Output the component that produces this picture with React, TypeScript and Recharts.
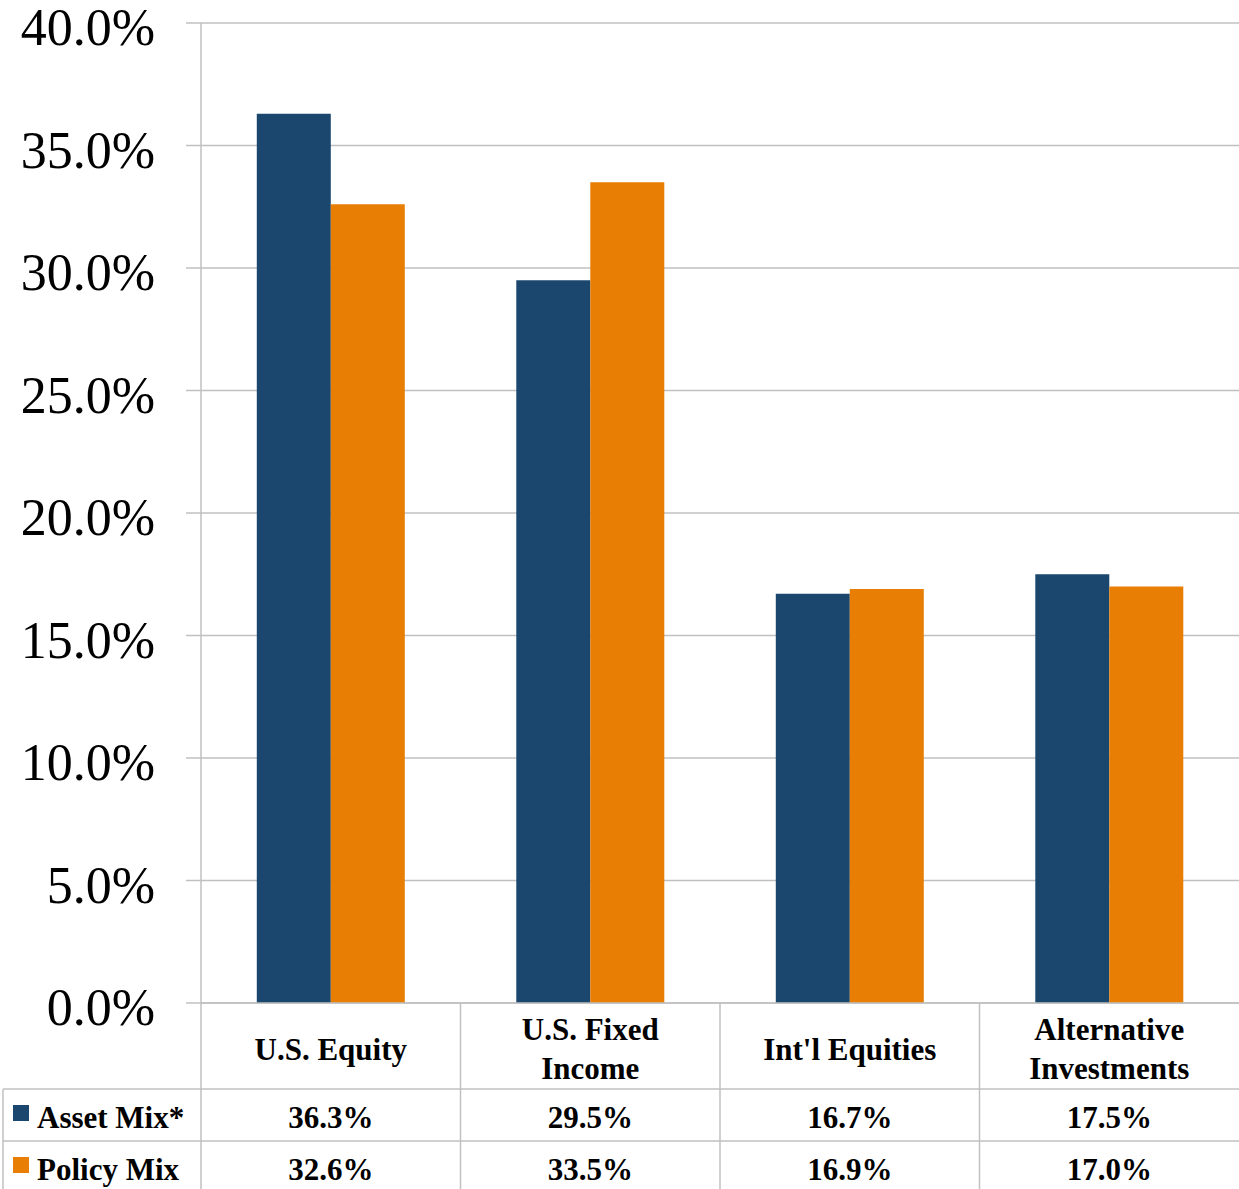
import React from 'react';
import { BarChart, Bar, XAxis, YAxis, CartesianGrid } from 'recharts';

const categories = ['U.S. Equity', 'U.S. Fixed\nIncome', "Int'l Equities", 'Alternative\nInvestments'];
const assetMix = [36.3, 29.5, 16.7, 17.5];
const policyMix = [32.6, 33.5, 16.9, 17.0];
const seriesNames = ['Asset Mix*', 'Policy Mix'];
const yTicks = [0, 5, 10, 15, 20, 25, 30, 35, 40];

const data = categories.map((c, i) => ({ name: c, asset: assetMix[i], policy: policyMix[i] }));

const W = 1239;
const H = 1189;
const LEFT = 201;
const TOP = 23;
const BOTTOM_H = 186;
const PLOT_BOTTOM = H - BOTTOM_H;
const PLOT_W = W - LEFT;
const BW = PLOT_W / categories.length;
const ROW1 = 1089;
const ROW2 = 1141;
const GRID = '#c0c0c0';
const FONT = '"Liberation Serif", "Times New Roman", Times, serif';
const BLUE = '#1b476e';
const ORANGE = '#e87e04';

const YTick = (props: any) => {
  const { y, payload } = props;
  return (
    <text x={LEFT - 46} y={y + 22} textAnchor="end" fontFamily={FONT} fontSize={52} fill="#000">
      {Number(payload.value).toFixed(1)}%
    </text>
  );
};

const XTick = (props: any) => {
  const { x, payload } = props;
  const i = categories.indexOf(String(payload.value));
  const lines = String(payload.value).split('\n');
  const labelYs = lines.length === 1 ? [1060] : [1040, 1079];
  const txt = { fontFamily: FONT, fontSize: 31, fontWeight: 700, fill: '#000', textAnchor: 'middle' as const };
  return (
    <g>
      {i === 0 && (
        <g>
          <line x1={3} y1={ROW1} x2={W} y2={ROW1} stroke={GRID} strokeWidth={1.5} />
          <line x1={3} y1={ROW2} x2={W} y2={ROW2} stroke={GRID} strokeWidth={1.5} />
          <line x1={3} y1={ROW1} x2={3} y2={H} stroke={GRID} strokeWidth={1.5} />
          <rect x={13} y={1105} width={16} height={16} fill={BLUE} />
          <rect x={13} y={1157} width={16} height={16} fill={ORANGE} />
          <text x={37} y={1128} fontFamily={FONT} fontSize={31} fontWeight={700} fill="#000">{seriesNames[0]}</text>
          <text x={37} y={1180} fontFamily={FONT} fontSize={31} fontWeight={700} fill="#000">{seriesNames[1]}</text>
        </g>
      )}
      <line x1={x - BW / 2} y1={PLOT_BOTTOM} x2={x - BW / 2} y2={H} stroke={GRID} strokeWidth={1.5} />
      {lines.map((l, k) => (
        <text key={k} x={x} y={labelYs[k]} {...txt}>{l}</text>
      ))}
      <text x={x} y={1128} {...txt}>{assetMix[i].toFixed(1)}%</text>
      <text x={x} y={1180} {...txt}>{policyMix[i].toFixed(1)}%</text>
    </g>
  );
};

export default function App() {
  return (
    <div style={{ position: 'absolute', left: 0, top: 0, width: W, height: H, background: '#fff' }}>
      <BarChart
        width={W}
        height={H}
        data={data}
        margin={{ top: TOP, right: 0, bottom: 0, left: 0 }}
        barCategoryGap="21.5%"
        barGap={0}
      >
        <CartesianGrid vertical={false} stroke={GRID} strokeWidth={1.5} />
        <XAxis
          dataKey="name"
          height={BOTTOM_H}
          interval={0}
          tickLine={false}
          axisLine={{ stroke: GRID, strokeWidth: 1.5 }}
          tick={<XTick />}
        />
        <YAxis
          width={LEFT}
          domain={[0, 40]}
          ticks={yTicks}
          interval={0}
          tickSize={15}
          tickMargin={31}
          tickLine={{ stroke: GRID, strokeWidth: 1.5 }}
          axisLine={{ stroke: GRID, strokeWidth: 1.5 }}
          tick={<YTick />}
        />
        <Bar dataKey="asset" fill={BLUE} isAnimationActive={false} />
        <Bar dataKey="policy" fill={ORANGE} isAnimationActive={false} />
      </BarChart>
    </div>
  );
}
